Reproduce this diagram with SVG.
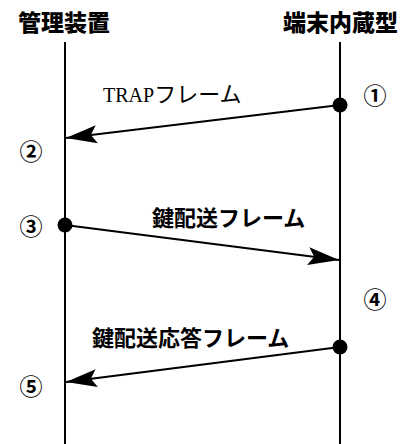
<svg xmlns="http://www.w3.org/2000/svg" width="403" height="444" viewBox="0 0 403 444">
<defs>
<marker id="ah" markerUnits="userSpaceOnUse" markerWidth="32" markerHeight="20" viewBox="0 0 32 20" refX="31" refY="10" orient="auto">
<path d="M31,10 L0,1 L6,10 L0,19 Z" fill="#000"/>
</marker>
<style>
.hd{font-family:"Noto Sans CJK JP","Noto Sans",sans-serif;font-size:23px;font-weight:900;fill:#000}
.lb{font-family:"Noto Sans CJK JP","Noto Sans",sans-serif;font-size:22px;font-weight:bold;fill:#000}
.lk{font-family:"Noto Sans CJK JP","Noto Sans",sans-serif;font-size:22px;font-weight:normal;fill:#000}
.lt{font-family:"Liberation Serif","Noto Sans CJK JP",serif;font-size:20px;fill:#000}
.num{font-family:"Noto Sans CJK JP","Noto Sans",sans-serif;font-size:23px;font-weight:bold;fill:#000;text-anchor:middle}
.life{stroke:#000;stroke-width:2;fill:none}
.msg{stroke:#000;stroke-width:2.2;fill:none;marker-end:url(#ah)}
</style>
</defs>
<rect width="403" height="444" fill="#fff"/>
<g id="manager">
<text class="hd" x="18" y="31">管理装置</text>
<line class="life" x1="65" y1="42" x2="65" y2="444"/>
</g>
<g id="terminal">
<text class="hd" x="283" y="31">端末内蔵型</text>
<line class="life" x1="340" y1="42" x2="340" y2="444"/>
</g>
<g id="connectors">
<circle cx="340" cy="105" r="7.5" fill="#000"/>
<line class="msg" x1="340" y1="105" x2="66" y2="138"/>
<circle cx="65" cy="225" r="7.5" fill="#000"/>
<line class="msg" x1="65" y1="225" x2="339" y2="260"/>
<circle cx="340" cy="347" r="7.5" fill="#000"/>
<line class="msg" x1="340" y1="347" x2="66" y2="382"/>
</g>
<g id="labels">
<text class="lt" x="103" y="102">TRAP<tspan class="lk">フレーム</tspan></text>
<text class="lb" x="152" y="226">鍵配送フレーム</text>
<text class="lb" x="92" y="346">鍵配送応答フレーム</text>
<text class="num" x="375" y="104">①</text>
<text class="num" x="31" y="160">②</text>
<text class="num" x="31" y="235">③</text>
<text class="num" x="375" y="308">④</text>
<text class="num" x="31" y="395">⑤</text>
</g>
</svg>
